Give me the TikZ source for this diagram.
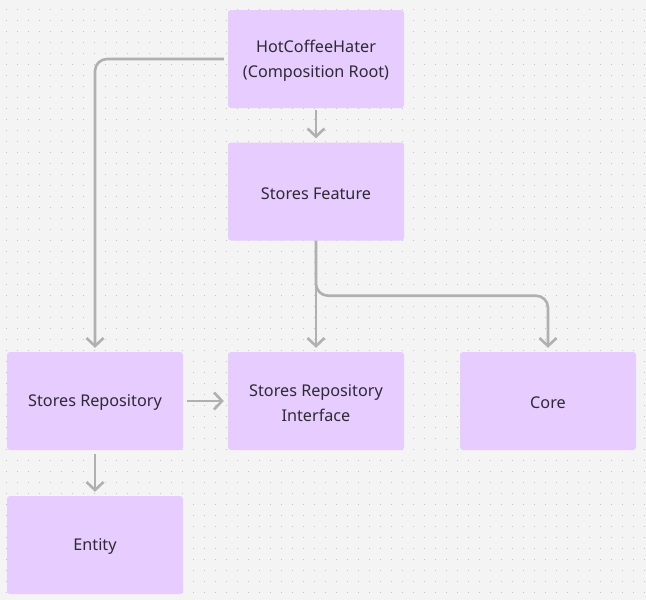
\documentclass[tikz,border=0pt]{standalone}
\usepackage{fontspec}
\setmainfont{Noto Sans}
\usetikzlibrary{arrows.meta,calc}
\definecolor{bgc}{HTML}{F4F4F4}
\definecolor{dotc}{HTML}{C4C4C4}
\definecolor{boxc}{HTML}{E6CCFF}
\definecolor{linec}{HTML}{B0B0B0}
\definecolor{txtc}{HTML}{2E2A33}
\tikzset{
  comp/.style={fill=boxc, rounded corners=3pt, minimum width=176pt, minimum height=98pt,
    inner sep=0pt},
  lbl/.style={align=center, text=txtc, inner sep=0pt, yshift=-1.8pt,
    font=\fontsize{16.2}{25}\selectfont},
  conn/.style={draw=linec, line width=2.6pt, rounded corners=12pt,
    -{Straight Barb[length=8pt,width=17pt]}, shorten >=4pt},
}
\begin{document}
\begin{tikzpicture}[x=1pt,y=-1pt]
\fill[bgc] (0,0) rectangle (646,600);
\useasboundingbox (0,0) rectangle (646,600);
\foreach \i in {0,...,58}{
  \foreach \j in {0,...,53}{
    \fill[dotc] ({6.7+11*\i-0.7},{9.4+11*\j-0.7}) rectangle ++(1.4,1.4);
  }
}
\node[comp, label={[lbl]center:HotCoffeeHater\\(Composition Root)}] (root) at (316,59) {};
\node[comp, label={[lbl]center:Stores Feature}] (feat) at (316,191.5) {};
\node[comp, label={[lbl]center:Stores Repository}] (repo) at (95,401) {};
\node[comp, label={[lbl]center:Stores Repository\\Interface}] (iface) at (316,401) {};
\node[comp, label={[lbl]center:Core}] (core) at (548,401) {};
\node[comp, label={[lbl]center:Entity}] (entity) at (95,545) {};
\draw[conn, shorten <=2pt] (root.south) -- (feat.north);
\draw[conn, shorten <=4pt] (root.west) -| (repo.north);
\draw[conn] (feat.south) -- (iface.north);
\draw[conn] (feat.south) -- ++(0,55) -| (core.north);
\draw[conn, shorten <=4pt] (repo.east) -- (iface.west);
\draw[conn, shorten <=4pt] (repo.south) -- (entity.north);
\end{tikzpicture}
\end{document}
